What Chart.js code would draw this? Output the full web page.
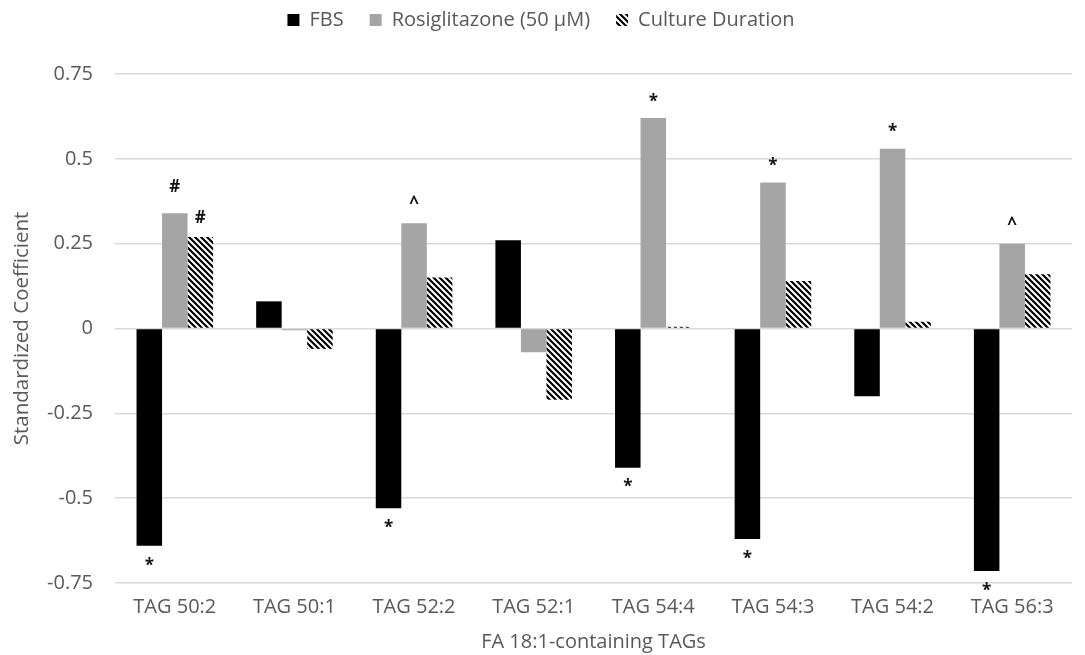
<!DOCTYPE html>
<html>
<head>
<meta charset="utf-8">
<script src="https://cdn.jsdelivr.net/npm/chart.js@4"></script>
<style>
  body { margin: 0; background: #fff; }
</style>
</head>
<body>
<canvas id="myChart" width="1085" height="655"></canvas>
<script>
var labels = ["TAG 50:2", "TAG 50:1", "TAG 52:2", "TAG 52:1", "TAG 54:4", "TAG 54:3", "TAG 54:2", "TAG 56:3"];
var fbs = [-0.64, 0.08, -0.53, 0.26, -0.41, -0.62, -0.20, -0.715];
var rosi = [0.34, -0.005, 0.31, -0.07, 0.62, 0.43, 0.53, 0.25];
var culture = [0.27, -0.06, 0.15, -0.21, 0.005, 0.14, 0.02, 0.16];
// significance marks above/below each bar
var fbsMarks = ["*", "", "*", "", "*", "*", "", "*"];
var rosiMarks = ["#", "", "^", "", "*", "*", "*", "^"];
var cultureMarks = ["#", "", "", "", "", "", "", ""];

var txt = "#595959";
var font = "'Open Sans', 'Liberation Sans', sans-serif";

// diagonal stripes for culture duration
function hatch() {
  var c = document.createElement("canvas");
  c.width = 6; c.height = 6;
  var g = c.getContext("2d");
  g.fillStyle = "#fff";
  g.fillRect(0, 0, 6, 6);
  g.strokeStyle = "#000";
  g.lineWidth = 2.2;
  g.beginPath();
  g.moveTo(-3, -3); g.lineTo(9, 9);
  g.moveTo(-3, 3); g.lineTo(3, 9);
  g.moveTo(3, -3); g.lineTo(9, 3);
  g.stroke();
  return g.createPattern(c, "repeat");
}

var marksPlugin = {
  id: "marks",
  afterDatasetsDraw: function(chart) {
    var ctx = chart.ctx;
    var sets = [fbsMarks, rosiMarks, cultureMarks];
    ctx.save();
    ctx.fillStyle = "#111";
    ctx.font = "bold 17px " + font;
    ctx.textAlign = "center";
    ctx.textBaseline = "middle";
    sets.forEach(function(marks, di) {
      var meta = chart.getDatasetMeta(di);
      var vals = chart.data.datasets[di].data;
      meta.data.forEach(function(bar, i) {
        if (!marks[i]) return;
        var y;
        if (vals[i] < 0) y = bar.y + 17;
        else y = bar.y - 19;
        if (marks[i] == "*") y += 3;
        if (di == 1 && marks[i] == "#") y -= 7;
        ctx.fillText(marks[i], bar.x, y);
      });
    });
    ctx.restore();
  }
};

// extra space under the legend
var legendGap = {
  id: "legendGap",
  beforeInit: function(chart) {
    var fit = chart.legend.fit;
    chart.legend.fit = function() {
      fit.bind(chart.legend)();
      this.height += 34;
    };
  }
};

var ctx = document.getElementById("myChart");
var myChart = new Chart(ctx, {
  type: "bar",
  data: {
    labels: labels,
    datasets: [{
      label: "FBS",
      data: fbs,
      backgroundColor: "#000",
      borderColor: "#000",
      borderWidth: 0
    }, {
      label: "Rosiglitazone (50 \u00b5M)",
      data: rosi,
      backgroundColor: "#a5a5a5",
      borderWidth: 0
    }, {
      label: "Culture Duration",
      data: culture,
      backgroundColor: hatch(),
      borderWidth: 0
    }]
  },
  options: {
    responsive: false,
    animation: false,
    layout: { padding: { left: 10, right: 13, top: -16, bottom: 1 } },
    categoryPercentage: 0.64,
    barPercentage: 1,
    plugins: {
      legend: {
        position: "top",
        labels: {
          color: txt,
          font: { family: font, size: 20 },
          boxWidth: 12,
          boxHeight: 12,
          padding: 26
        }
      },
      tooltip: { enabled: false }
    },
    scales: {
      x: {
        grid: { display: false },
        border: { display: false },
        ticks: { color: txt, font: { family: font, size: 20 }, padding: 4, maxRotation: 0 },
        title: { display: true, text: "FA 18:1-containing TAGs", color: txt, font: { family: font, size: 20 }, padding: { top: 7, bottom: 0 } }
      },
      y: {
        min: -0.75,
        max: 0.75,
        afterFit: function(s) { s.width = 105; },
        ticks: {
          stepSize: 0.25,
          color: txt,
          font: { family: font, size: 20 },
          padding: 22,
          callback: function(v) { return String(Math.round(v * 100) / 100); }
        },
        grid: { color: "#d9d9d9", lineWidth: 1.5, drawTicks: false },
        border: { display: false },
        title: { display: true, text: "Standardized Coefficient", color: txt, font: { family: font, size: 20.5 }, padding: { top: 0, bottom: 4 } }
      }
    }
  },
  plugins: [marksPlugin, legendGap]
});
</script>
</body>
</html>
